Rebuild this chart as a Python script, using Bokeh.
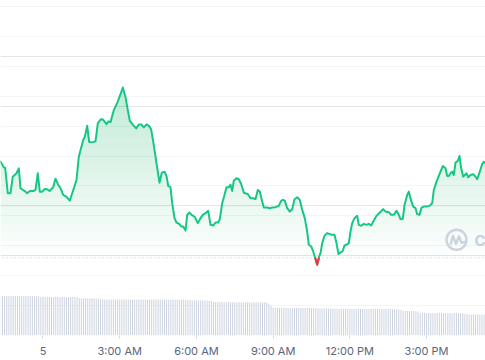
import numpy as np
from bokeh.plotting import figure
from bokeh.models import Range1d, FixedTicker, Grid, Label
from bokeh.embed import file_html
from bokeh.resources import INLINE

# ---- data (hours since midnight of the 5th, price) ----
hours = [-1.74, -1.662, -1.533, -1.478, -1.377, -1.271, -1.181, -1.036, -0.946, -0.880, -0.684,
         -0.618, -0.516, -0.360, -0.293, -0.203, -0.125, -0.031, 0.070, 0.164, 0.254,
         0.399, 0.489, 0.579, 0.684, 0.790, 0.907, 1.048, 1.142, 1.310, 1.400,
         1.572, 1.635, 1.729, 1.807, 1.924, 2.053, 2.143, 2.249, 2.327, 2.417,
         2.483, 2.562, 2.640, 2.769, 2.902, 3.004, 3.121, 3.226, 3.316, 3.395,
         3.528, 3.645, 3.747, 3.840, 3.942, 4.048, 4.153, 4.231, 4.333, 4.439,
         4.556, 4.646, 4.752, 4.830, 4.896, 4.986, 5.053, 5.143, 5.221, 5.327,
         5.405, 5.483, 5.573, 5.639, 5.729, 5.808, 5.925, 6.054, 6.160, 6.249,
         6.355, 6.461, 6.551, 6.656, 6.746, 6.852, 6.914, 7.008, 7.098, 7.176,
         7.266, 7.333, 7.399, 7.462, 7.567, 7.657, 7.751, 7.853, 7.908, 8.009,
         8.115, 8.220, 8.310, 8.400, 8.479, 8.572, 8.635, 8.768, 8.870, 8.964,
         9.093, 9.222, 9.316, 9.394, 9.456, 9.550, 9.652, 9.746, 9.836, 9.941,
         10.043, 10.137, 10.238, 10.332, 10.395, 10.489, 10.567, 10.645, 10.723, 10.802,
         10.853, 10.919, 11.009, 11.115, 11.216, 11.310, 11.400, 11.478, 11.556, 11.635,
         11.713, 11.791, 11.869, 11.959, 12.026, 12.092, 12.182, 12.288, 12.350, 12.444,
         12.546, 12.651, 12.741, 12.835, 12.937, 13.043, 13.172, 13.304, 13.394, 13.523,
         13.617, 13.719, 13.825, 13.915, 13.981, 14.071, 14.138, 14.243, 14.306, 14.400,
         14.478, 14.568, 14.634, 14.724, 14.803, 14.892, 14.998, 15.115, 15.221, 15.284,
         15.389, 15.518, 15.635, 15.741, 15.808, 15.870, 15.937, 16.003, 16.066, 16.132,
         16.222, 16.289, 16.355, 16.433, 16.496, 16.562, 16.629, 16.719, 16.824, 16.914,
         16.980, 17.082, 17.175, 17.238, 17.305, 17.42]
price = [58.46, 58.443, 58.387, 58.380, 58.127, 58.127, 58.293, 58.327, 58.377, 58.177, 58.143,
         58.127, 58.150, 58.150, 58.160, 58.327, 58.143, 58.143, 58.170, 58.167, 58.150,
         58.187, 58.273, 58.220, 58.177, 58.110, 58.093, 58.053, 58.127, 58.260, 58.493,
         58.660, 58.693, 58.803, 58.640, 58.637, 58.647, 58.827, 58.867, 58.870, 58.843,
         58.820, 58.847, 58.840, 58.960, 59.033, 59.100, 59.187, 59.093, 58.960, 58.853,
         58.810, 58.777, 58.817, 58.817, 58.787, 58.817, 58.800, 58.767, 58.610, 58.427,
         58.233, 58.333, 58.343, 58.300, 58.200, 58.187, 58.027, 57.877, 57.833, 57.820,
         57.793, 57.793, 57.753, 57.910, 57.933, 57.910, 57.893, 57.827, 57.877, 57.910,
         57.927, 57.950, 57.810, 57.803, 57.833, 57.833, 57.867, 58.027, 58.110, 58.187,
         58.187, 58.213, 58.150, 58.253, 58.277, 58.267, 58.220, 58.133, 58.127, 58.120,
         58.077, 58.077, 58.067, 58.160, 58.143, 58.043, 57.983, 57.983, 57.977, 57.983,
         57.987, 58.000, 58.053, 58.060, 58.053, 57.977, 57.943, 57.967, 58.067, 58.087,
         58.060, 57.960, 57.877, 57.743, 57.610, 57.593, 57.543, 57.477, 57.410, 57.493,
         57.527, 57.627, 57.700, 57.727, 57.717, 57.710, 57.710, 57.627, 57.517, 57.533,
         57.543, 57.603, 57.610, 57.627, 57.743, 57.827, 57.877, 57.900, 57.810, 57.800,
         57.820, 57.810, 57.820, 57.803, 57.853, 57.900, 57.933, 57.967, 57.943, 57.937,
         57.910, 57.910, 57.950, 57.910, 57.867, 57.870, 58.010, 58.110, 58.143, 58.050,
         57.993, 57.977, 57.917, 57.910, 57.983, 57.993, 57.993, 58.000, 58.027, 58.160,
         58.243, 58.327, 58.400, 58.377, 58.300, 58.300, 58.327, 58.343, 58.310, 58.433,
         58.453, 58.500, 58.377, 58.293, 58.310, 58.327, 58.287, 58.310, 58.317, 58.293,
         58.267, 58.343, 58.420, 58.443, 58.427, 58.41]
open_price = 57.48

tick_hours = [0, 3, 6, 9, 12, 15]
tick_labels = ["5", "3:00 AM", "6:00 AM", "9:00 AM", "12:00 PM", "3:00 PM"]
next_tick_hour = 18
next_tick_label = "6:00 PM"
grid_prices = [60.0, 59.7, 59.4, 59.1, 58.8, 58.5, 58.2, 57.9, 57.6, 57.3, 57.0, 56.7]

# volume bars every 5 minutes starting 100 minutes before midnight
vol_start_hour = -100 / 60
vol_step_hour = 5 / 60
volume = [396, 395, 395, 396, 394, 395, 396, 395, 394, 395, 395, 396, 395, 394, 395, 395, 394, 395, 394,
          389, 388, 388, 387, 388, 387, 387, 388, 386, 387, 387, 386, 387, 386, 386, 387, 386, 385,
          374, 374, 373, 373, 374, 372, 373, 373, 372, 372,
          363, 363, 362, 363, 362, 362, 363, 362, 361, 362, 362, 363, 362, 362, 361, 362, 362, 361, 362, 362,
          361, 362, 362, 361, 361, 362, 361, 361, 362, 361, 361, 360, 361, 361, 360, 361, 360, 360, 361, 360,
          359, 358, 356, 354,
          351, 350, 350, 351, 350, 349, 350, 349, 348,
          336, 335, 335, 334, 335, 334, 334, 335, 334, 333, 334, 333, 333, 334, 333, 332, 333, 333, 332, 332,
          333, 332, 331, 332, 331, 330,
          315, 300,
          280, 279, 279, 278, 279, 278, 278, 277, 278, 277, 277, 278, 277, 276, 277, 276, 276, 276,
          274, 273, 273, 274, 273, 272, 273, 273, 272, 272, 271,
          268, 268, 267, 268, 267, 267, 268, 267, 266, 267, 267, 266, 267, 266, 266, 267, 266, 266, 265, 266,
          266, 265, 266, 265, 265, 266, 265, 264, 265, 264, 262, 258,
          248, 247, 246, 246, 245, 245, 244, 240,
          228, 227, 227, 226, 227, 226, 226, 225, 226, 225, 225, 226, 225, 224, 225, 224, 224, 225, 224, 223,
          222, 218,
          212, 211, 211, 210, 211, 210, 210, 209, 210, 209]

GREEN = "#16c784"
RED = "#ea3943"

p = figure(width=485, height=360, x_range=Range1d(-1.662, 17.305), y_range=Range1d(56.70, 60.06),
           output_backend="svg", toolbar_location=None, y_axis_location=None,
           min_border_left=0, min_border_right=0, min_border_top=0, min_border_bottom=24)
p.extra_y_ranges = {"vol": Range1d(0, 3360)}
p.outline_line_color = None
p.background_fill_color = "white"
p.xgrid.visible = False
p.add_layout(Grid(dimension=1, ticker=FixedTicker(ticks=grid_prices),
                  grid_line_color="#f3f5f7", grid_line_width=1))

# volume
vx = [vol_start_hour + i * vol_step_hour for i in range(len(volume))]
p.vbar(x=vx, top=volume, bottom=0, width=0.038, fill_color="#cbd2de", line_color=None,
       y_range_name="vol")

# gradient fill above the open price
h = np.array(hours)
pr = np.array(price)
top = np.maximum(pr, open_price)
N = 20
pmax = pr.max()
for k in range(N):
    lvl = open_price + (pmax - open_price) * k / N
    y1 = np.minimum(np.maximum(lvl, open_price), top)
    p.varea(x=h, y1=y1, y2=top, fill_color="#1fcf7f", fill_alpha=0.0125)
p.varea(x=h, y1=np.minimum(pr, open_price), y2=open_price, fill_color=RED, fill_alpha=0.08)

# open price dotted line
p.line(x=[hours[0], hours[-1]], y=[open_price, open_price], line_color="#b9c1cd",
       line_width=1, line_dash="1 3")

# price line
p.line(x=h, y=pr, line_color=GREEN, line_width=2, line_join="round")

# red segments below the open price
segs_x, segs_y = [], []
cur_x, cur_y = [], []
if pr[0] < open_price:
    cur_x, cur_y = [h[0]], [pr[0]]
for i in range(len(h) - 1):
    x0, y0, x1, y1 = h[i], pr[i], h[i + 1], pr[i + 1]
    b0, b1 = y0 < open_price, y1 < open_price
    if b0 != b1:
        t = (open_price - y0) / (y1 - y0)
        xc = x0 + t * (x1 - x0)
    if b0 and b1:
        cur_x.append(x1); cur_y.append(y1)
    elif (not b0) and b1:
        cur_x, cur_y = [xc, x1], [open_price, y1]
    elif b0 and not b1:
        cur_x.append(xc); cur_y.append(open_price)
        segs_x.append(cur_x); segs_y.append(cur_y)
        cur_x, cur_y = [], []
if cur_x:
    segs_x.append(cur_x); segs_y.append(cur_y)
if segs_x:
    p.multi_line(xs=segs_x, ys=segs_y, line_color=RED, line_width=2, line_join="round")

# watermark (logo + name)
PX_PER_HOUR = 25.57
PX_PER_PRICE = 100.0
logo_x, logo_y = 16.171, 57.66
p.scatter(x=[logo_x], y=[logo_y], size=20, marker="circle", fill_color=None,
          line_color="#cdd3df", line_width=2.4)
m_dx = [-6, -3.5, -0.5, 2.5, 5, 9]
m_dy = [5, -4, 4, -3.5, 3, 2]
p.line(x=[logo_x + d / PX_PER_HOUR for d in m_dx], y=[logo_y - d / PX_PER_PRICE for d in m_dy],
       line_color="#cdd3df", line_width=2.4, line_join="round")
p.add_layout(Label(x=16.875, y=57.65, text="CoinMarketCap", text_font="Inter", text_font_size="15px",
                   text_font_style="bold", text_color="#c9cfdb", text_baseline="middle"))

# x axis
ax = p.xaxis[0]
ax.ticker = FixedTicker(ticks=tick_hours)
ax.major_label_overrides = {t: l for t, l in zip(tick_hours, tick_labels)}
ax.axis_line_color = None
ax.major_tick_in = 0
ax.major_tick_out = 3
ax.major_tick_line_color = "#d5dbe5"
ax.minor_tick_line_color = None
ax.major_label_standoff = 5
ax.major_label_text_font = "Inter"
ax.major_label_text_font_size = "11px"
ax.major_label_text_color = "#58667e"

p.add_layout(Label(x=next_tick_hour, y=56.57, text=next_tick_label, text_font="Inter",
                   text_font_size="11px", text_color="#58667e", text_align="center",
                   text_baseline="middle"))

open("out.html", "w").write(file_html(p, INLINE))
